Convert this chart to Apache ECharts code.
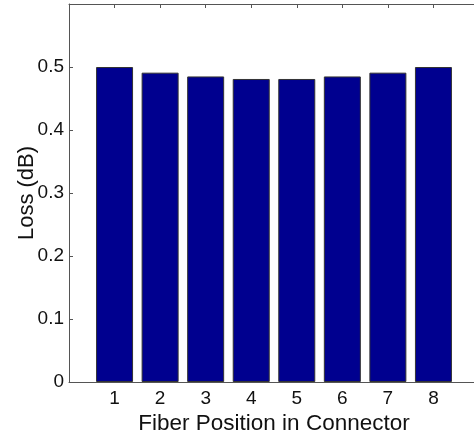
<!DOCTYPE html>
<html>
<head>
<meta charset="utf-8">
<script src="https://cdn.jsdelivr.net/npm/echarts@6/dist/echarts.min.js"></script>
<style>html,body{margin:0;padding:0;background:#fff;}#c{width:474px;height:436px;}</style>
</head>
<body>
<div id="c"></div>
<script>
const positions = [1, 2, 3, 4, 5, 6, 7, 8];
const lossDb = [0.500, 0.491, 0.485, 0.481, 0.481, 0.485, 0.491, 0.500];
const yTickLabels = ['0', '0.1', '0.2', '0.3', '0.4', '0.5'];
const xName = 'Fiber Position in Connector';
const yName = 'Loss (dB)';

const font = 'Liberation Sans, Arial, Helvetica, sans-serif';
const axisColor = '#555';
const chart = echarts.init(document.getElementById('c'), null, {renderer: 'canvas'});
chart.setOption({
  animation: false,
  backgroundColor: '#fff',
  grid: {left: 69, top: 4, width: 410, height: 378, outerBoundsMode: 'none', containLabel: false},
  xAxis: [{
    type: 'value', min: 0, max: 9, interval: 1, position: 'bottom',
    name: xName, nameLocation: 'middle', nameGap: 30, nameMoveOverlap: false,
    nameTextStyle: {fontFamily: font, fontSize: 22.5, color: '#111'},
    axisLine: {show: true, lineStyle: {color: axisColor, width: 1}},
    axisTick: {show: true, inside: true, length: 4, lineStyle: {color: axisColor}},
    axisLabel: {fontFamily: font, fontSize: 19, color: '#111', margin: 7,
      formatter: v => (v >= 1 && v <= 8) ? String(positions[v - 1]) : ''},
    splitLine: {show: false}
  }, {
    type: 'value', min: 0, max: 9, interval: 1, position: 'top',
    axisLine: {show: true, lineStyle: {color: axisColor, width: 1}},
    axisTick: {show: true, inside: true, length: 4, lineStyle: {color: axisColor}},
    axisLabel: {show: false},
    splitLine: {show: false}
  }],
  yAxis: {
    type: 'value', min: 0, max: 0.6, interval: 0.1,
    name: yName, nameLocation: 'middle', nameGap: 31, nameMoveOverlap: false,
    nameTextStyle: {fontFamily: font, fontSize: 22, color: '#111'},
    axisLine: {show: true, lineStyle: {color: axisColor, width: 1}},
    axisTick: {show: true, inside: true, length: 4, lineStyle: {color: axisColor}},
    axisLabel: {fontFamily: font, fontSize: 19, color: '#111', margin: 5,
      formatter: (v) => { const i = Math.round(v * 10); return i < yTickLabels.length ? yTickLabels[i] : ''; }},
    splitLine: {show: false}
  },
  series: [{
    type: 'bar', xAxisIndex: 0,
    data: positions.map((p, i) => [p, lossDb[i]]),
    barWidth: 37,
    itemStyle: {color: '#00008F', borderColor: '#333', borderWidth: 1}
  }]
});
</script>
</body>
</html>
